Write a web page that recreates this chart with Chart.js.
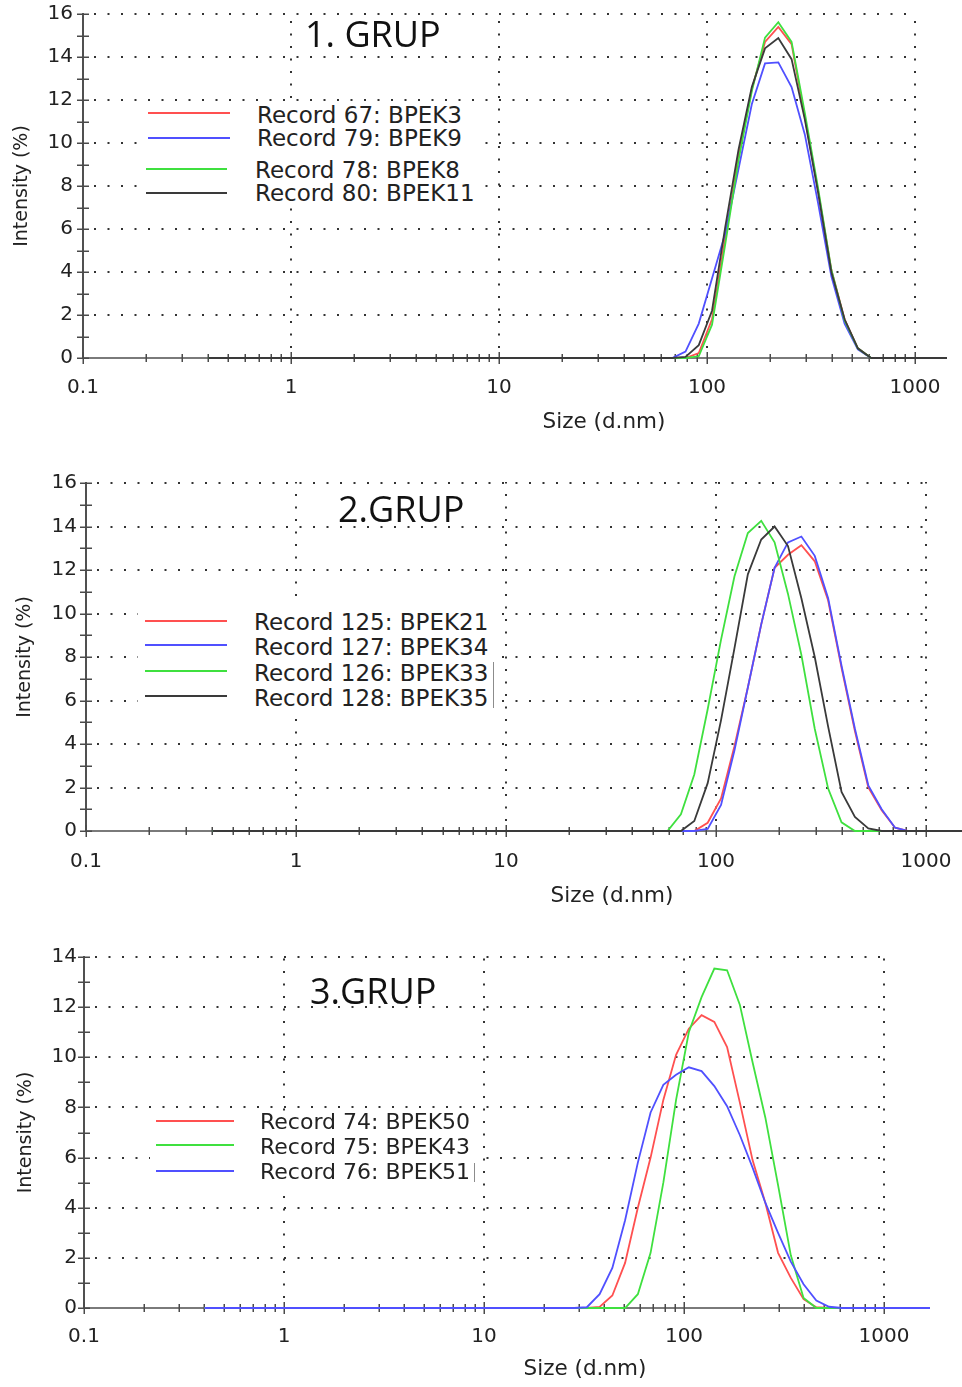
<!DOCTYPE html>
<html><head><meta charset="utf-8">
<script src="https://cdn.jsdelivr.net/npm/chart.js@4.4.1/dist/chart.umd.min.js"></script>
<style>
html,body{margin:0;padding:0;background:#fff;}
body{width:962px;height:1387px;position:relative;overflow:hidden;}
canvas{position:absolute;left:0;}
.t{position:absolute;white-space:nowrap;line-height:1;}
.box{position:absolute;background:#fff;}
.sw{position:absolute;height:2px;}
</style></head>
<body>
<canvas id="c1" width="962" height="440" style="top:0px;width:962px;height:440px"></canvas>
<canvas id="c2" width="962" height="440" style="top:470px;width:962px;height:440px"></canvas>
<canvas id="c3" width="962" height="447" style="top:940px;width:962px;height:447px"></canvas>
<script>
// ---- Size classes (d.nm) of the DLS distribution ----
const sizes = [0.4, 0.4632, 0.5365, 0.6213, 0.7195, 0.8332, 0.9649, 1.117, 1.294, 1.499,
  1.736, 2.010, 2.328, 2.696, 3.122, 3.615, 4.187, 4.849, 5.615, 6.503,
  7.531, 8.721, 10.10, 11.70, 13.54, 15.69, 18.17, 21.04, 24.36, 28.21,
  32.67, 37.84, 43.82, 50.75, 58.77, 68.06, 78.82, 91.28, 105.7, 122.4,
  141.8, 164.2, 190.1, 220.2, 255.0, 295.3, 342.0, 396.1, 458.7, 531.2,
  615.1, 712.4, 825.0, 955.4, 1106, 1281, 1484, 1718, 1990, 2305,
  2669, 3091, 3580, 4145, 4801, 5560, 6439, 7456, 8635, 10000];

// ---- 1. GRUP ----
const g1Labels = ['Record 67: BPEK3', 'Record 79: BPEK9', 'Record 78: BPEK8', 'Record 80: BPEK11'];
const g1Red = [0,0,0,0,0,0,0,0,0,0, 0,0,0,0,0,0,0,0,0,0, 0,0,0,0,0,0,0,0,0,0,
  0,0,0,0,0,0,0,0.23,1.8,5.6, 9.4,12.5,14.7,15.4,14.6,11.2,7.8,4.1,1.8,0.45,
  0,0,0,0,0,0,0,0,0,0, 0,0,0,0,0,0,0,0,0,0];
const g1Blue = [0,0,0,0,0,0,0,0,0,0, 0,0,0,0,0,0,0,0,0,0, 0,0,0,0,0,0,0,0,0,0,
  0,0,0,0,0,0,0.3,1.6,3.7,5.8, 8.8,11.8,13.7,13.75,12.6,10.4,7.2,3.8,1.6,0.4,
  0,0,0,0,0,0,0,0,0,0, 0,0,0,0,0,0,0,0,0,0];
const g1Green = [0,0,0,0,0,0,0,0,0,0, 0,0,0,0,0,0,0,0,0,0, 0,0,0,0,0,0,0,0,0,0,
  0,0,0,0,0,0,0,0.08,1.55,5.3, 9.2,12.4,14.9,15.62,14.7,11.4,7.9,4.1,1.75,0.45,
  0,0,0,0,0,0,0,0,0,0, 0,0,0,0,0,0,0,0,0,0];
const g1Black = [0,0,0,0,0,0,0,0,0,0, 0,0,0,0,0,0,0,0,0,0, 0,0,0,0,0,0,0,0,0,0,
  0,0,0,0,0,0,0.05,0.6,2.2,6.1, 9.7,12.6,14.4,14.88,13.9,11.1,7.7,4.0,1.8,0.45,
  0,0,0,0,0,0,0,0,0,0, 0,0,0,0,0,0,0,0,0,0];

// ---- 2.GRUP ----
const g2Labels = ['Record 125: BPEK21', 'Record 127: BPEK34', 'Record 126: BPEK33', 'Record 128: BPEK35'];
const g2Red = [0,0,0,0,0,0,0,0,0,0, 0,0,0,0,0,0,0,0,0,0, 0,0,0,0,0,0,0,0,0,0,
  0,0,0,0,0,0,0,0.38,1.5,3.9, 6.6,9.5,12.1,12.7,13.14,12.4,10.6,7.5,4.6,2.0,
  0.95,0.15,0,0,0,0,0,0,0,0, 0,0,0,0,0,0,0,0,0,0];
const g2Blue = [0,0,0,0,0,0,0,0,0,0, 0,0,0,0,0,0,0,0,0,0, 0,0,0,0,0,0,0,0,0,0,
  0,0,0,0,0,0,0,0.1,1.2,3.7, 6.6,9.5,12.1,13.27,13.54,12.65,10.7,7.6,4.7,2.1,
  1.0,0.15,0,0,0,0,0,0,0,0, 0,0,0,0,0,0,0,0,0,0];
const g2Green = [0,0,0,0,0,0,0,0,0,0, 0,0,0,0,0,0,0,0,0,0, 0,0,0,0,0,0,0,0,0,0,
  0,0,0,0,0,0.77,2.6,5.6,8.8,11.7, 13.7,14.26,13.27,10.9,8.1,4.7,1.95,0.4,0,0,
  0,0,0,0,0,0,0,0,0,0, 0,0,0,0,0,0,0,0,0,0];
const g2Black = [0,0,0,0,0,0,0,0,0,0, 0,0,0,0,0,0,0,0,0,0, 0,0,0,0,0,0,0,0,0,0,
  0,0,0,0,0,0,0.46,2.2,5.1,8.4, 11.8,13.4,14.0,13.1,10.7,8.0,4.8,1.8,0.65,0.12,
  0,0,0,0,0,0,0,0,0,0, 0,0,0,0,0,0,0,0,0,0];

// ---- 3.GRUP ----
const g3Labels = ['Record 74: BPEK50', 'Record 75: BPEK43', 'Record 76: BPEK51'];
const g3Red = [0,0,0,0,0,0,0,0,0,0, 0,0,0,0,0,0,0,0,0,0, 0,0,0,0,0,0,0,0,0,0,
  0,0.04,0.5,1.8,4.0,6.0,8.3,10.1,11.14,11.68, 11.41,10.41,8.2,5.9,4.2,2.2,1.2,0.35,0.03,0,
  0,0,0,0,0,0,0,0,0,0, 0,0,0,0,0,0,0,0,0,0];
const g3Green = [0,0,0,0,0,0,0,0,0,0, 0,0,0,0,0,0,0,0,0,0, 0,0,0,0,0,0,0,0,0,0,
  0,0,0,0,0.55,2.2,5.0,8.3,11.0,12.4, 13.54,13.47,12.1,9.8,7.6,4.9,2.1,0.4,0,0,
  0,0,0,0,0,0,0,0,0,0, 0,0,0,0,0,0,0,0,0,0];
const g3Blue = [0,0,0,0,0,0,0,0,0,0, 0,0,0,0,0,0,0,0,0,0, 0,0,0,0,0,0,0,0,0,0,
  0.03,0.55,1.6,3.5,5.8,7.8,8.9,9.3,9.6,9.45, 8.85,8.05,6.9,5.6,4.2,3.0,1.85,0.95,0.3,0.05,
  0,0,0,0,0,0,0,0,0,0, 0,0,0,0,0,0,0,0,0,0];

// ---- axes text ----
const xMajorTicks = [0.1, 1, 10, 100, 1000];
const xTickLabels = ['0.1', '1', '10', '100', '1000'];
const panelTitles = ['1. GRUP', '2.GRUP', '3.GRUP'];
const xAxisTitle = 'Size (d.nm)';
const yAxisTitle = 'Intensity (%)';

// ---- styling ----
const COL = {red: '#ff5050', blue: '#5050ff', green: '#3fe03f', black: '#3a3a3a'};
const TICK_FONT = {family: 'DejaVu Sans', size: 20, lineHeight: 1};
const TEXT_COL = '#222';

const panels = [
  {id: 'c1', top: 0, h: 440, area: {l: 83, t: 14, r: 947, b: 358}, xMax: 1425, yMax: 16,
   yTitlePad: 11, xTickPad: 19.5, yTickPad: 10,
   series: [[g1Red, 'red'], [g1Blue, 'blue'], [g1Green, 'green'], [g1Black, 'black']], labels: g1Labels,
   title: {left: 305, base: 48}, xTitle: {cx: 604, base: 428},
   box: {l: 140, t: 101, r: 484, b: 208}, bar: null, legFont: 23,
   rows: [{y: 113, x1: 148, x2: 230, tx: 257, base: 123}, {y: 138, x1: 148, x2: 230, tx: 257, base: 146.5},
          {y: 169, x1: 146, x2: 227, tx: 255, base: 178}, {y: 193, x1: 146, x2: 227, tx: 255, base: 201.5}]},
  {id: 'c2', top: 470, h: 440, area: {l: 86, t: 13, r: 962, b: 361}, xMax: 1484, yMax: 16,
   yTitlePad: 13.6, xTickPad: 20.5, yTickPad: 9,
   series: [[g2Red, 'red'], [g2Blue, 'blue'], [g2Green, 'green'], [g2Black, 'black']], labels: g2Labels,
   title: {left: 338, base: 523}, xTitle: {cx: 612, base: 902},
   box: {l: 138, t: 606, r: 493, b: 717}, bar: {x: 493, t: 662, b: 708}, legFont: 23,
   rows: [{y: 621, x1: 145, x2: 227, tx: 254, base: 630}, {y: 645, x1: 145, x2: 227, tx: 254, base: 655},
          {y: 671, x1: 145, x2: 227, tx: 254, base: 681}, {y: 696, x1: 145, x2: 227, tx: 254, base: 706}]},
  {id: 'c3', top: 940, h: 447, area: {l: 84, t: 17, r: 930, b: 368}, xMax: 1698, yMax: 14,
   yTitlePad: 14.6, xTickPad: 19, yTickPad: 7,
   series: [[g3Red, 'red'], [g3Green, 'green'], [g3Blue, 'blue']], labels: g3Labels,
   title: {left: 310, base: 1005}, xTitle: {cx: 585, base: 1375},
   box: {l: 150, t: 1112, r: 476, b: 1192}, bar: {x: 474, t: 1163, b: 1182}, legFont: 22,
   rows: [{y: 1121, x1: 156, x2: 234, tx: 260, base: 1130}, {y: 1145, x1: 156, x2: 234, tx: 260, base: 1154.5},
          {y: 1171, x1: 156, x2: 234, tx: 260, base: 1180}]}
];

// plugin: dotted grid (ending at 1000), axis lines and crossing tick marks
const dlsFrame = {
  id: 'dlsFrame',
  beforeDatasetsDraw(chart, args, o) {
    const {ctx, chartArea: a} = chart;
    const xs = chart.scales.x, ys = chart.scales.y;
    const xEnd = Math.round(xs.getPixelForValue(o.gridEnd));
    const yb = Math.round(ys.getPixelForValue(0));
    const yt = Math.round(ys.getPixelForValue(o.yMax));
    const xl = Math.round(a.left);
    ctx.save();
    ctx.lineCap = 'butt';
    ctx.strokeStyle = '#333';
    ctx.lineWidth = 2;
    ctx.setLineDash([2, 11.5]);
    for (let v = 2; v <= o.yMax; v += 2) {
      const py = Math.round(ys.getPixelForValue(v));
      ctx.beginPath(); ctx.moveTo(xl + 11, py); ctx.lineTo(xEnd + 1, py); ctx.stroke();
    }
    ctx.setLineDash([2, 10.5]);
    o.majors.forEach(d => {
      if (d <= o.xMin) return;
      const px = Math.round(xs.getPixelForValue(d));
      ctx.beginPath(); ctx.moveTo(px, yb - 10); ctx.lineTo(px, yt - 1); ctx.stroke();
    });
    ctx.setLineDash([]);
    // x axis line
    ctx.strokeStyle = '#7a7a7a'; ctx.lineWidth = 2;
    ctx.beginPath(); ctx.moveTo(xl, yb); ctx.lineTo(a.right, yb); ctx.stroke();
    // y axis line
    ctx.strokeStyle = '#505050'; ctx.lineWidth = 2;
    ctx.beginPath(); ctx.moveTo(xl, yt - 1); ctx.lineTo(xl, yb + 1); ctx.stroke();
    // y tick marks
    ctx.lineWidth = 1.5; ctx.strokeStyle = '#4a4a4a';
    for (let v = 0; v <= o.yMax; v += 1) {
      const py = Math.round(ys.getPixelForValue(v)) + 0.25;
      ctx.beginPath(); ctx.moveTo(xl - 6, py); ctx.lineTo(xl + 6, py); ctx.stroke();
    }
    // x tick marks
    xs.ticks.forEach(t => {
      const px = Math.round(xs.getPixelForValue(t.value)) + 0.25;
      const len = o.majors.indexOf(t.value) >= 0 ? 6 : 4;
      ctx.beginPath(); ctx.moveTo(px, yb - len); ctx.lineTo(px, yb + len); ctx.stroke();
    });
    ctx.restore();
  }
};

function xTicksFor(xMax) {
  const out = [];
  xMajorTicks.forEach(d => {
    if (d <= xMax) out.push(d);
    for (let k = 2; k <= 9; k++) { const v = k * d; if (v <= xMax) out.push(v); }
  });
  return out.sort((p, q) => p - q);
}

function addText(text, family, size, left, base, color, center, ascK) {
  const el = document.createElement('div');
  el.className = 't';
  el.textContent = text;
  el.style.fontFamily = family;
  el.style.fontSize = size + 'px';
  el.style.color = color;
  el.style.top = (base - ascK * size) + 'px';
  el.style.left = left + 'px';
  if (center) el.style.transform = 'translateX(-50%)';
  document.body.appendChild(el);
}

panels.forEach((p, pi) => {
  const W = 962;
  const n = p.series.length;
  const datasets = p.series.map(([vals, c], i) => ({
    label: p.labels[i],
    data: sizes.map((s, k) => ({x: s, y: vals[k]})),
    borderColor: COL[c],
    borderWidth: 1.8,
    pointRadius: 0,
    tension: 0,
    fill: false,
    clip: {left: 0, right: 0, top: 5, bottom: 5},
    order: n - i
  }));
  const xt = xTicksFor(p.xMax);
  new Chart(document.getElementById(p.id), {
    type: 'line',
    data: {datasets},
    options: {
      responsive: false,
      animation: false,
      devicePixelRatio: 1,
      layout: {padding: {top: p.area.t, left: 0, right: W - p.area.r, bottom: 0}},
      plugins: {
        legend: {display: false},
        tooltip: {enabled: false},
        dlsFrame: {yMax: p.yMax, gridEnd: 1000, xMin: 0.1, majors: xMajorTicks}
      },
      scales: {
        x: {
          type: 'logarithmic', min: 0.1, max: p.xMax,
          grid: {display: false, drawTicks: false},
          border: {display: false},
          ticks: {
            autoSkip: false, maxRotation: 0, minRotation: 0, padding: p.xTickPad,
            font: TICK_FONT, color: TEXT_COL,
            callback: (v) => { const i = xMajorTicks.indexOf(v); return i >= 0 ? xTickLabels[i] : ''; }
          },
          afterBuildTicks: (s) => { s.ticks = xt.map(v => ({value: v})); },
          afterFit: (s) => { s.height = p.h - p.area.b; s.paddingLeft = 0; s.paddingRight = 0; }
        },
        y: {
          min: 0, max: p.yMax,
          grid: {display: false, drawTicks: false},
          border: {display: false},
          ticks: {
            stepSize: 1, padding: p.yTickPad, font: TICK_FONT, color: TEXT_COL,
            callback: (v) => (v % 2 === 0 ? String(v) : '')
          },
          title: {display: true, text: yAxisTitle, color: TEXT_COL,
                  font: {family: 'DejaVu Sans', size: 19}, padding: {top: p.yTitlePad, bottom: 0}},
          afterFit: (s) => { s.width = p.area.l; s.paddingTop = 0; s.paddingBottom = 0; }
        }
      }
    },
    plugins: [dlsFrame]
  });

  // legend box (white backing that hides the grid) + legend entries
  const bx = document.createElement('div');
  bx.className = 'box';
  Object.assign(bx.style, {left: p.box.l + 'px', top: p.box.t + 'px',
    width: (p.box.r - p.box.l) + 'px', height: (p.box.b - p.box.t) + 'px'});
  document.body.appendChild(bx);
  if (p.bar) {
    const br = document.createElement('div');
    Object.assign(br.style, {position: 'absolute', left: p.bar.x + 'px', top: p.bar.t + 'px',
      width: '1px', height: (p.bar.b - p.bar.t) + 'px', background: '#8c8c8c'});
    document.body.appendChild(br);
  }
  p.rows.forEach((r, i) => {
    const sw = document.createElement('div');
    sw.className = 'sw';
    Object.assign(sw.style, {left: r.x1 + 'px', top: (r.y - 1) + 'px', width: (r.x2 - r.x1) + 'px',
      background: COL[p.series[i][1]]});
    document.body.appendChild(sw);
    addText(p.labels[i], 'DejaVu Sans', p.legFont, r.tx, r.base, TEXT_COL, false, 0.846);
  });
  addText(panelTitles[pi], 'Open Sans', 36, p.title.left, p.title.base, '#111', false, 0.888);
  addText(xAxisTitle, 'DejaVu Sans', 21.5, p.xTitle.cx, p.xTitle.base, TEXT_COL, true, 0.846);
});
</script>
</body></html>
